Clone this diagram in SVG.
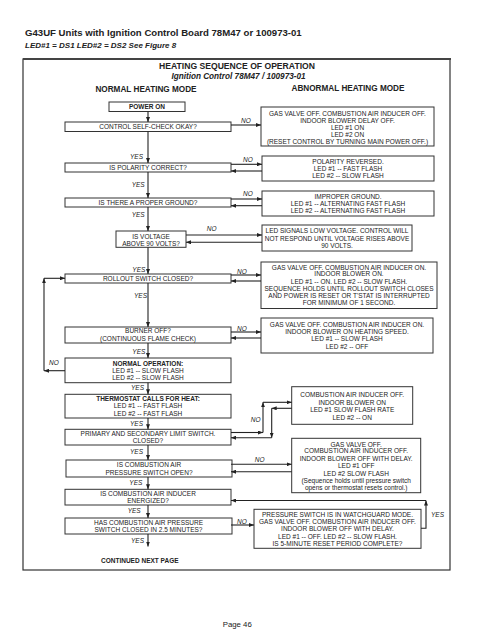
<svg xmlns="http://www.w3.org/2000/svg" width="495" height="640" viewBox="0 0 495 640">
<style>
text{font-family:"Liberation Sans",Arial,Helvetica,sans-serif;fill:#222}
.t{font-size:6.5px;text-anchor:middle}
.b{font-weight:bold}
.l{font-size:6.5px;font-style:italic}
.box{fill:#fff;stroke:#333;stroke-width:1}
.c{stroke:#222;stroke-width:1.1;fill:none;marker-end:url(#ah)}
.p{stroke:#222;stroke-width:1.1;fill:none}
</style>
<defs>
<marker id="ah" viewBox="0 0 10 8" refX="10" refY="4" markerWidth="5" markerHeight="4" markerUnits="userSpaceOnUse" orient="auto">
<path d="M0,0 L10,4 L0,8 z" fill="#222"/>
</marker>
</defs>
<rect width="495" height="640" fill="#fff"/>
<text x="25" y="36" font-size="9.6" font-weight="bold">G43UF Units with Ignition Control Board 78M47 or 100973-01</text>
<text x="25" y="47.5" font-size="8" font-weight="bold" font-style="italic">LED#1 = DS1 LED#2 = DS2 See Figure 8</text>
<rect x="23" y="59" width="427" height="511" fill="none" stroke="#333" stroke-width="1.2"/>
<line x1="23" y1="59" x2="451" y2="59" stroke="#444" stroke-width="1.8"/>
<text x="237" y="68.8" font-size="8.6" font-weight="bold" text-anchor="middle">HEATING SEQUENCE OF OPERATION</text>
<text x="238.5" y="78.6" font-size="8.2" font-weight="bold" font-style="italic" text-anchor="middle">Ignition Control 78M47 / 100973-01</text>
<text x="146" y="92" font-size="8.2" font-weight="bold" text-anchor="middle">NORMAL HEATING MODE</text>
<text x="348" y="90.5" font-size="8.2" font-weight="bold" text-anchor="middle">ABNORMAL HEATING MODE</text>

<g id="power-on"><rect class="box" x="109" y="102" width="76" height="9.5"/><text class="t b" x="147" y="109.3">POWER ON</text></g>
<g id="self-check"><rect class="box" x="65" y="122" width="166" height="9.5"/><text class="t" x="148" y="129">CONTROL SELF-CHECK OKAY?</text></g>
<g id="polarity"><rect class="box" x="65" y="163" width="166" height="9"/><text class="t" x="148" y="169.8">IS POLARITY CORRECT?</text></g>
<g id="ground"><rect class="box" x="65" y="198" width="166" height="9"/><text class="t" x="148" y="204.8">IS THERE A PROPER GROUND?</text></g>
<g id="voltage"><rect class="box" x="116" y="231" width="70" height="16.3"/><text class="t" x="151" y="239">IS VOLTAGE</text><text class="t" x="151" y="246.2">ABOVE 90 VOLTS?</text></g>
<g id="rollout"><rect class="box" x="65" y="274" width="166" height="9"/><text class="t" x="148" y="280.8">ROLLOUT SWITCH CLOSED?</text></g>
<g id="burner"><rect class="box" x="65" y="327" width="166" height="16"/><text class="t" x="148" y="333">BURNER OFF?</text><text class="t" x="148" y="341">(CONTINUOUS FLAME CHECK)</text></g>
<g id="normal-op"><rect class="box" x="65" y="358" width="166" height="24.7"/><text class="t b" x="148" y="365.6">NORMAL OPERATION:</text><text class="t" x="148" y="372.6">LED #1 -- SLOW FLASH</text><text class="t" x="148" y="379.6">LED #2 -- SLOW FLASH</text></g>
<g id="thermostat"><rect class="box" x="65" y="394.3" width="166" height="23.7"/><text class="t b" x="148" y="401">THERMOSTAT CALLS FOR HEAT:</text><text class="t" x="148" y="408.3">LED #1 -- FAST FLASH</text><text class="t" x="148" y="415.6">LED #2 -- FAST FLASH</text></g>
<g id="limit"><rect class="box" x="65" y="429.3" width="166" height="15.7"/><text class="t" x="148" y="436.3">PRIMARY AND SECONDARY LIMIT SWITCH.</text><text class="t" x="148" y="443.3">CLOSED?</text></g>
<g id="pressure-open"><rect class="box" x="66" y="460" width="166" height="17"/><text class="t" x="149" y="466.6">IS COMBUSTION AIR</text><text class="t" x="149" y="474.6">PRESSURE SWITCH OPEN?</text></g>
<g id="inducer"><rect class="box" x="65" y="489.3" width="166" height="15.7"/><text class="t" x="148" y="496.3">IS COMBUSTION AIR INDUCER</text><text class="t" x="148" y="503">ENERGIZED?</text></g>
<g id="pressure-closed"><rect class="box" x="65" y="518" width="167" height="16"/><text class="t" x="148.5" y="525">HAS COMBUSTION AIR PRESSURE</text><text class="t" x="148.5" y="531.6">SWITCH CLOSED IN 2.5 MINUTES?</text></g>
<text x="101" y="563" font-size="6.5" font-weight="bold">CONTINUED NEXT PAGE</text>

<g id="r-selfcheck"><rect class="box" x="261" y="107" width="173" height="39"/>
<text class="t" x="347.5" y="115.6">GAS VALVE OFF. COMBUSTION AIR INDUCER OFF.</text>
<text class="t" x="347.5" y="122.6">INDOOR BLOWER DELAY OFF.</text>
<text class="t" x="347.5" y="129.6">LED #1 ON</text>
<text class="t" x="347.5" y="137">LED #2 ON</text>
<text class="t" x="347.5" y="144.2">(RESET CONTROL BY TURNING MAIN POWER OFF.)</text></g>
<g id="r-polarity"><rect class="box" x="262" y="156" width="172" height="25"/>
<text class="t" x="348" y="164">POLARITY REVERSED.</text>
<text class="t" x="348" y="170.6">LED #1 -- FAST FLASH</text>
<text class="t" x="348" y="177.6">LED #2 -- SLOW FLASH</text></g>
<g id="r-ground"><rect class="box" x="262" y="191" width="172" height="25"/>
<text class="t" x="348" y="198.6">IMPROPER GROUND.</text>
<text class="t" x="348" y="205.6">LED #1 -- ALTERNATING FAST FLASH</text>
<text class="t" x="348" y="213">LED #2 -- ALTERNATING FAST FLASH</text></g>
<g id="r-voltage"><rect class="box" x="262" y="225" width="150" height="26"/>
<text class="t" x="337" y="233.3">LED SIGNALS LOW VOLTAGE. CONTROL WILL</text>
<text class="t" x="337" y="240.6">NOT RESPOND UNTIL VOLTAGE RISES ABOVE</text>
<text class="t" x="337" y="247.6">90 VOLTS.</text></g>
<g id="r-rollout"><rect class="box" x="261" y="262" width="176" height="46.5"/>
<text class="t" x="349" y="270">GAS VALVE OFF. COMBUSTION AIR INDUCER ON.</text>
<text class="t" x="349" y="276.3">INDOOR BLOWER ON.</text>
<text class="t" x="349" y="283.6">LED #1 -- ON. LED #2 -- SLOW FLASH.</text>
<text class="t" x="349" y="291">SEQUENCE HOLDS UNTIL ROLLOUT SWITCH CLOSES</text>
<text class="t" x="349" y="298.3">AND POWER IS RESET OR T'STAT IS INTERRUPTED</text>
<text class="t" x="349" y="305.3">FOR MINIMUM OF 1 SECOND.</text></g>
<g id="r-burner"><rect class="box" x="261" y="318" width="172" height="35"/>
<text class="t" x="347" y="327.3">GAS VALVE OFF. COMBUSTION AIR INDUCER ON.</text>
<text class="t" x="347" y="334">INDOOR BLOWER ON HEATING SPEED.</text>
<text class="t" x="347" y="341.3">LED #1 -- SLOW FLASH</text>
<text class="t" x="347" y="348.6">LED #2 -- OFF</text></g>
<g id="r-limit"><rect class="box" x="291.7" y="386.7" width="121" height="37.6"/>
<text class="t" x="352.2" y="397.3">COMBUSTION AIR INDUCER OFF.</text>
<text class="t" x="352.2" y="405">INDOOR BLOWER ON</text>
<text class="t" x="352.2" y="412.3">LED #1 SLOW FLASH RATE</text>
<text class="t" x="352.2" y="419.6">LED #2 -- ON</text></g>
<g id="r-pressure-open"><rect class="box" x="291.7" y="438.3" width="129" height="54.4"/>
<text class="t" x="356.2" y="446.6">GAS VALVE OFF.</text>
<text class="t" x="356.2" y="453.3">COMBUSTION AIR INDUCER OFF.</text>
<text class="t" x="356.2" y="461">INDOOR BLOWER OFF WITH DELAY.</text>
<text class="t" x="356.2" y="468.3">LED #1 OFF</text>
<text class="t" x="356.2" y="475.6">LED #2 SLOW FLASH</text>
<text class="t" x="356.2" y="483">(Sequence holds until pressure switch</text>
<text class="t" x="356.2" y="490">opens or thermostat resets control.)</text></g>
<g id="r-watchguard"><rect class="box" x="254" y="509.3" width="167" height="39"/>
<text class="t" x="337.5" y="516.6">PRESSURE SWITCH IS IN WATCHGUARD MODE.</text>
<text class="t" x="337.5" y="524">GAS VALVE OFF. COMBUSTION AIR INDUCER OFF.</text>
<text class="t" x="337.5" y="531.3">INDOOR BLOWER OFF WITH DELAY.</text>
<text class="t" x="337.5" y="538.6">LED #1 -- OFF. LED #2 -- SLOW FLASH.</text>
<text class="t" x="337.5" y="545.6">IS 5-MINUTE RESET PERIOD COMPLETE?</text></g>

<g id="connectors">
<line class="c" x1="148" y1="111.5" x2="148" y2="122"/>
<line class="c" x1="148" y1="131.5" x2="148" y2="163"/>
<line class="c" x1="148" y1="172" x2="148" y2="198"/>
<line class="c" x1="148" y1="207" x2="148" y2="231"/>
<line class="c" x1="148" y1="247.3" x2="148" y2="274"/>
<line class="c" x1="148" y1="283" x2="148" y2="327"/>
<line class="c" x1="148" y1="343" x2="148" y2="358"/>
<line class="c" x1="148" y1="382.7" x2="148" y2="394.3"/>
<line class="c" x1="148" y1="418" x2="148" y2="429.3"/>
<line class="c" x1="148" y1="445" x2="148" y2="460"/>
<line class="c" x1="148" y1="477" x2="148" y2="489.3"/>
<line class="c" x1="148" y1="505" x2="148" y2="518"/>
<line class="c" x1="148" y1="534" x2="148" y2="546.5"/>
<line class="c" x1="231" y1="125" x2="261" y2="125"/>
<line class="c" x1="231" y1="164.3" x2="262" y2="164.3"/>
<line class="c" x1="262" y1="171" x2="231" y2="171"/>
<line class="c" x1="231" y1="199" x2="262" y2="199"/>
<line class="c" x1="262" y1="205.7" x2="231" y2="205.7"/>
<line class="c" x1="186" y1="235" x2="262" y2="235"/>
<line class="c" x1="262" y1="242.3" x2="186" y2="242.3"/>
<line class="c" x1="231" y1="275" x2="261" y2="275"/>
<line class="c" x1="261" y1="281" x2="231" y2="281"/>
<line class="c" x1="231" y1="332" x2="261" y2="332"/>
<line class="c" x1="261" y1="338" x2="231" y2="338"/>
<line class="c" x1="65" y1="370.7" x2="44" y2="370.7"/>
<line class="c" x1="44" y1="370.7" x2="44" y2="278.3"/>
<line class="c" x1="44" y1="278.3" x2="65" y2="278.3"/>
<line class="c" x1="231" y1="432.5" x2="263" y2="432.5"/>
<line class="c" x1="263" y1="432.5" x2="263" y2="402.3"/>
<line class="c" x1="263" y1="402.3" x2="291.7" y2="402.3"/>
<line class="c" x1="291.7" y1="408.3" x2="271.7" y2="408.3"/>
<line class="c" x1="271.7" y1="408.3" x2="271.7" y2="437.7"/>
<line class="c" x1="271.7" y1="437.7" x2="231" y2="437.7"/>
<line class="c" x1="231" y1="464.3" x2="291.7" y2="464.3"/>
<line class="c" x1="291.7" y1="471.7" x2="231" y2="471.7"/>
<polyline class="c" points="421,528.3 426,528.3 426,500.5"/>
<line class="c" x1="426" y1="500.5" x2="231" y2="500.5"/>
<line class="c" x1="231" y1="525" x2="254" y2="525"/>
<text class="l" x="241" y="123.3">NO</text>
<text class="l" x="243" y="161.5">NO</text>
<text class="l" x="243" y="196">NO</text>
<text class="l" x="206.7" y="230.5">NO</text>
<text class="l" x="237" y="274">NO</text>
<text class="l" x="237" y="330.5">NO</text>
<text class="l" x="49" y="365">NO</text>
<text class="l" x="250.7" y="421.5">NO</text>
<text class="l" x="254.7" y="462">NO</text>
<text class="l" x="237" y="523.5">NO</text>
<text class="l" x="431" y="517">YES</text>
<text class="l" x="130" y="159">YES</text>
<text class="l" x="131.7" y="187">YES</text>
<text class="l" x="131.7" y="216.5">YES</text>
<text class="l" x="132.3" y="271.5">YES</text>
<text class="l" x="134" y="298">YES</text>
<text class="l" x="132.3" y="354">YES</text>
<text class="l" x="131" y="389.5">YES</text>
<text class="l" x="130" y="425.5">YES</text>
<text class="l" x="130" y="454">YES</text>
<text class="l" x="129.3" y="484.5">YES</text>
<text class="l" x="127.7" y="513">YES</text>
<text class="l" x="131" y="543">YES</text>
</g>
<text x="222.7" y="627" font-size="7.8">Page 46</text>
</svg>
